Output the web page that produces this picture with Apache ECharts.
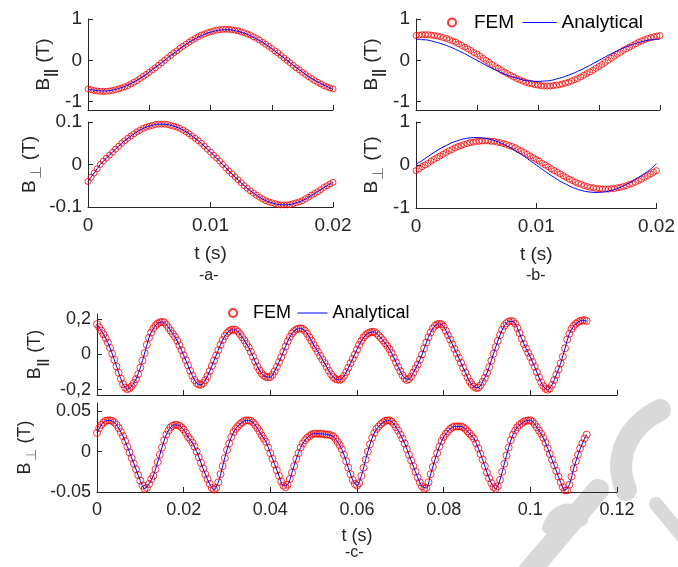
<!DOCTYPE html>
<html>
<head>
<meta charset="utf-8">
<script src="https://cdn.jsdelivr.net/npm/echarts@6/dist/echarts.min.js"></script>
<style>
  html, body { margin: 0; padding: 0; background: #fff; }
  #chart { width: 678px; height: 567px; }
</style>
</head>
<body>
<div id="chart"></div>
<script>
// sample steps (s)
const dtFemAB = 0.00025;
const dtAnaAB = 0.0005;
const dtFemC = 0.0005;
const dtAnaC = 0.001;

// -a- B parallel
const aParFem = [
  -0.69, -0.71, -0.73, -0.74, -0.75, -0.75, -0.75, -0.74, -0.73, -0.71,
  -0.69, -0.67, -0.64, -0.61, -0.57, -0.53, -0.49, -0.44, -0.39, -0.34,
  -0.29, -0.23, -0.18, -0.12, -0.06, 0.00, 0.06, 0.12, 0.18, 0.23,
  0.29, 0.34, 0.39, 0.44, 0.49, 0.53, 0.57, 0.61, 0.64, 0.67,
  0.69, 0.71, 0.73, 0.74, 0.75, 0.75, 0.75, 0.74, 0.73, 0.71,
  0.69, 0.67, 0.64, 0.61, 0.57, 0.53, 0.49, 0.44, 0.39, 0.34,
  0.29, 0.23, 0.18, 0.12, 0.06, 0.00, -0.06, -0.12, -0.18, -0.23,
  -0.29, -0.34, -0.39, -0.44, -0.49, -0.53, -0.57, -0.61, -0.64, -0.67,
  -0.69
];
const aParAna = [
  -0.70, -0.72, -0.74, -0.74, -0.72, -0.68, -0.63, -0.56, -0.48, -0.39,
  -0.28, -0.17, -0.06, 0.06, 0.17, 0.28, 0.39, 0.48, 0.56, 0.63,
  0.68, 0.72, 0.74, 0.74, 0.72, 0.68, 0.63, 0.56, 0.48, 0.39,
  0.28, 0.17, 0.06, -0.06, -0.17, -0.28, -0.39, -0.48, -0.56, -0.63,
  -0.70
];
// -a- B perpendicular
const aPerpFem = [
  -0.040, -0.030, -0.020, -0.010, 0.000, 0.008, 0.015, 0.022, 0.029, 0.036,
  0.043, 0.050, 0.056, 0.062, 0.067, 0.072, 0.077, 0.081, 0.085, 0.088,
  0.090, 0.092, 0.094, 0.095, 0.095, 0.095, 0.094, 0.092, 0.090, 0.088,
  0.085, 0.081, 0.077, 0.072, 0.067, 0.062, 0.056, 0.050, 0.043, 0.036,
  0.029, 0.022, 0.015, 0.008, 0.000, -0.008, -0.015, -0.022, -0.029, -0.036,
  -0.043, -0.050, -0.056, -0.062, -0.067, -0.072, -0.077, -0.081, -0.085, -0.088,
  -0.090, -0.092, -0.094, -0.095, -0.095, -0.095, -0.094, -0.092, -0.090, -0.088,
  -0.085, -0.081, -0.077, -0.072, -0.068, -0.064, -0.059, -0.054, -0.050, -0.046,
  -0.042
];
const aPerpAna = [
  -0.040, -0.020, 0.000, 0.015, 0.029, 0.043, 0.056, 0.067, 0.077, 0.085,
  0.090, 0.094, 0.095, 0.094, 0.090, 0.085, 0.077, 0.067, 0.056, 0.043,
  0.029, 0.015, 0.000, -0.015, -0.029, -0.043, -0.056, -0.067, -0.077, -0.085,
  -0.090, -0.094, -0.095, -0.094, -0.090, -0.085, -0.077, -0.068, -0.059, -0.050,
  -0.042
];

// -b- B parallel
const bParFem = [
  0.60, 0.61, 0.62, 0.62, 0.62, 0.61, 0.60, 0.59, 0.57, 0.55,
  0.53, 0.50, 0.47, 0.44, 0.40, 0.36, 0.32, 0.28, 0.24, 0.19,
  0.15, 0.10, 0.05, 0.00, -0.05, -0.10, -0.15, -0.19, -0.24, -0.28,
  -0.32, -0.36, -0.40, -0.44, -0.47, -0.50, -0.53, -0.55, -0.57, -0.59,
  -0.60, -0.61, -0.62, -0.62, -0.62, -0.61, -0.60, -0.59, -0.57, -0.55,
  -0.53, -0.50, -0.47, -0.44, -0.40, -0.36, -0.32, -0.28, -0.24, -0.19,
  -0.15, -0.10, -0.05, 0.00, 0.05, 0.10, 0.15, 0.19, 0.24, 0.28,
  0.32, 0.36, 0.40, 0.44, 0.47, 0.50, 0.53, 0.55, 0.57, 0.59,
  0.60
];
const bParAna = [
  0.51, 0.50, 0.49, 0.45, 0.41, 0.36, 0.30, 0.23, 0.16, 0.08,
  0.00, -0.08, -0.16, -0.23, -0.30, -0.36, -0.41, -0.45, -0.49, -0.50,
  -0.51, -0.50, -0.49, -0.45, -0.41, -0.36, -0.30, -0.23, -0.16, -0.08,
  0.00, 0.08, 0.16, 0.23, 0.30, 0.36, 0.41, 0.45, 0.49, 0.50,
  0.51
];
// -b- B perpendicular
const bPerpFem = [
  -0.13, -0.09, -0.04, 0.00, 0.04, 0.09, 0.13, 0.17, 0.21, 0.25,
  0.29, 0.33, 0.36, 0.40, 0.43, 0.45, 0.48, 0.50, 0.52, 0.53,
  0.55, 0.55, 0.56, 0.56, 0.56, 0.55, 0.55, 0.53, 0.52, 0.50,
  0.48, 0.45, 0.43, 0.40, 0.36, 0.33, 0.29, 0.25, 0.21, 0.17,
  0.13, 0.09, 0.04, 0.00, -0.04, -0.09, -0.13, -0.17, -0.21, -0.25,
  -0.29, -0.33, -0.36, -0.40, -0.43, -0.45, -0.48, -0.50, -0.52, -0.53,
  -0.55, -0.55, -0.56, -0.56, -0.56, -0.55, -0.55, -0.53, -0.52, -0.50,
  -0.48, -0.45, -0.43, -0.40, -0.36, -0.33, -0.29, -0.25, -0.21, -0.17,
  -0.13
];
const bPerpAna = [
  0.02, 0.10, 0.20, 0.29, 0.38, 0.45, 0.52, 0.57, 0.61, 0.63,
  0.64, 0.63, 0.61, 0.57, 0.52, 0.45, 0.38, 0.29, 0.20, 0.10,
  0.00, -0.10, -0.20, -0.29, -0.38, -0.45, -0.52, -0.57, -0.61, -0.63,
  -0.64, -0.63, -0.61, -0.57, -0.52, -0.45, -0.38, -0.29, -0.20, -0.10,
  0.03
];

// -c- B parallel
const cParFem = [
  0.172, 0.155, 0.135, 0.115, 0.093, 0.068, 0.038, 0.005, -0.030, -0.068,
  -0.103, -0.138, -0.168, -0.188, -0.197, -0.192, -0.180, -0.162, -0.140, -0.112,
  -0.075, -0.035, 0.008, 0.055, 0.095, 0.125, 0.148, 0.165, 0.176, 0.183,
  0.185, 0.182, 0.170, 0.152, 0.135, 0.118, 0.100, 0.078, 0.052, 0.025,
  -0.005, -0.032, -0.062, -0.092, -0.120, -0.145, -0.162, -0.171, -0.172, -0.163,
  -0.145, -0.122, -0.095, -0.065, -0.035, -0.005, 0.025, 0.055, 0.082, 0.105,
  0.122, 0.133, 0.140, 0.142, 0.140, 0.130, 0.115, 0.098, 0.080, 0.060,
  0.040, 0.015, -0.012, -0.040, -0.068, -0.090, -0.108, -0.120, -0.127, -0.130,
  -0.128, -0.115, -0.095, -0.070, -0.043, -0.015, 0.015, 0.045, 0.075, 0.100,
  0.120, 0.133, 0.142, 0.147, 0.148, 0.146, 0.135, 0.118, 0.098, 0.078,
  0.055, 0.035, 0.015, -0.007, -0.028, -0.048, -0.070, -0.092, -0.112, -0.128,
  -0.138, -0.143, -0.144, -0.138, -0.122, -0.100, -0.075, -0.050, -0.025, 0.000,
  0.028, 0.055, 0.078, 0.097, 0.110, 0.120, 0.126, 0.129, 0.128, 0.120,
  0.108, 0.094, 0.080, 0.064, 0.048, 0.030, 0.008, -0.018, -0.045, -0.070,
  -0.095, -0.118, -0.135, -0.145, -0.140, -0.125, -0.103, -0.080, -0.058, -0.030,
  0.000, 0.035, 0.068, 0.098, 0.125, 0.148, 0.163, 0.171, 0.174, 0.172,
  0.158, 0.135, 0.110, 0.085, 0.058, 0.032, 0.006, -0.020, -0.047, -0.075,
  -0.103, -0.130, -0.153, -0.170, -0.183, -0.190, -0.188, -0.175, -0.155, -0.132,
  -0.105, -0.072, -0.035, 0.005, 0.042, 0.078, 0.110, 0.140, 0.163, 0.178,
  0.187, 0.190, 0.188, 0.175, 0.150, 0.122, 0.090, 0.060, 0.035, 0.010,
  -0.015, -0.042, -0.070, -0.100, -0.130, -0.158, -0.180, -0.195, -0.200, -0.193,
  -0.172, -0.145, -0.115, -0.085, -0.050, -0.012, 0.035, 0.085, 0.118, 0.145,
  0.162, 0.175, 0.184, 0.190, 0.194, 0.195, 0.190
];
const cParAna = [
  0.172, 0.135, 0.093, 0.038, -0.030, -0.103, -0.168, -0.197, -0.180, -0.140,
  -0.075, 0.008, 0.095, 0.148, 0.176, 0.185, 0.170, 0.135, 0.100, 0.052,
  -0.005, -0.062, -0.120, -0.162, -0.172, -0.145, -0.095, -0.035, 0.025, 0.082,
  0.122, 0.140, 0.140, 0.115, 0.080, 0.040, -0.012, -0.068, -0.108, -0.127,
  -0.128, -0.095, -0.043, 0.015, 0.075, 0.120, 0.142, 0.148, 0.135, 0.098,
  0.055, 0.015, -0.028, -0.070, -0.112, -0.138, -0.144, -0.122, -0.075, -0.025,
  0.028, 0.078, 0.110, 0.126, 0.128, 0.108, 0.080, 0.048, 0.008, -0.045,
  -0.095, -0.135, -0.140, -0.103, -0.058, 0.000, 0.068, 0.125, 0.163, 0.174,
  0.158, 0.110, 0.058, 0.006, -0.047, -0.103, -0.153, -0.183, -0.188, -0.155,
  -0.105, -0.035, 0.042, 0.110, 0.163, 0.187, 0.188, 0.150, 0.090, 0.035,
  -0.015, -0.070, -0.130, -0.180, -0.200, -0.172, -0.115, -0.050, 0.035, 0.118,
  0.162, 0.184, 0.194, 0.190
];
// -c- B perpendicular
const cPerpFem = [
  0.023, 0.029, 0.033, 0.036, 0.038, 0.0385, 0.0385, 0.038, 0.036, 0.033,
  0.029, 0.024, 0.019, 0.013, 0.006, -0.001, -0.008, -0.015, -0.022, -0.029,
  -0.036, -0.042, -0.046, -0.045, -0.040, -0.034, -0.030, -0.022, -0.013, -0.004,
  0.005, 0.014, 0.021, 0.026, 0.030, 0.032, 0.033, 0.033, 0.032, 0.030,
  0.027, 0.023, 0.018, 0.015, 0.011, 0.006, 0.000, -0.007, -0.014, -0.021,
  -0.028, -0.034, -0.040, -0.045, -0.047, -0.045, -0.038, -0.028, -0.018, -0.008,
  0.002, 0.010, 0.018, 0.024, 0.028, 0.031, 0.034, 0.036, 0.038, 0.0385,
  0.0385, 0.038, 0.036, 0.033, 0.029, 0.025, 0.020, 0.016, 0.012, 0.005,
  -0.002, -0.009, -0.016, -0.023, -0.030, -0.037, -0.042, -0.044, -0.041, -0.034,
  -0.026, -0.018, -0.009, -0.002, 0.005, 0.010, 0.014, 0.017, 0.019, 0.021,
  0.022, 0.022, 0.022, 0.022, 0.022, 0.021, 0.021, 0.021, 0.020, 0.019,
  0.016, 0.012, 0.008, 0.003, -0.004, -0.012, -0.020, -0.028, -0.035, -0.040,
  -0.042, -0.039, -0.030, -0.020, -0.010, 0.000, 0.009, 0.017, 0.023, 0.028,
  0.031, 0.034, 0.036, 0.038, 0.0385, 0.0385, 0.037, 0.034, 0.030, 0.026,
  0.021, 0.016, 0.010, 0.003, -0.004, -0.011, -0.018, -0.025, -0.032, -0.038,
  -0.043, -0.046, -0.045, -0.038, -0.028, -0.019, -0.010, -0.002, 0.006, 0.013,
  0.018, 0.022, 0.025, 0.028, 0.030, 0.031, 0.031, 0.031, 0.031, 0.030,
  0.028, 0.025, 0.022, 0.019, 0.016, 0.010, 0.004, -0.003, -0.010, -0.018,
  -0.026, -0.033, -0.039, -0.044, -0.046, -0.043, -0.035, -0.025, -0.015, -0.005,
  0.005, 0.014, 0.021, 0.026, 0.030, 0.033, 0.035, 0.037, 0.038, 0.0385,
  0.0385, 0.037, 0.034, 0.030, 0.026, 0.022, 0.017, 0.011, 0.004, -0.003,
  -0.010, -0.017, -0.024, -0.031, -0.038, -0.044, -0.048, -0.048, -0.041, -0.031,
  -0.021, -0.012, -0.004, 0.004, 0.010, 0.016, 0.021
];
const cPerpAna = [
  0.023, 0.033, 0.038, 0.0385, 0.036, 0.029, 0.019, 0.006, -0.008, -0.022,
  -0.036, -0.046, -0.040, -0.030, -0.013, 0.005, 0.021, 0.030, 0.033, 0.032,
  0.027, 0.018, 0.011, 0.000, -0.014, -0.028, -0.040, -0.047, -0.038, -0.018,
  0.002, 0.018, 0.028, 0.034, 0.038, 0.0385, 0.036, 0.029, 0.020, 0.012,
  -0.002, -0.016, -0.030, -0.042, -0.041, -0.026, -0.009, 0.005, 0.014, 0.019,
  0.022, 0.022, 0.022, 0.021, 0.020, 0.016, 0.008, -0.004, -0.020, -0.035,
  -0.042, -0.030, -0.010, 0.009, 0.023, 0.031, 0.036, 0.0385, 0.037, 0.030,
  0.021, 0.010, -0.004, -0.018, -0.032, -0.043, -0.045, -0.028, -0.010, 0.006,
  0.018, 0.025, 0.030, 0.031, 0.031, 0.028, 0.022, 0.016, 0.004, -0.010,
  -0.026, -0.039, -0.046, -0.035, -0.015, 0.005, 0.021, 0.030, 0.035, 0.038,
  0.0385, 0.034, 0.026, 0.017, 0.004, -0.010, -0.024, -0.038, -0.048, -0.041,
  -0.021, -0.004, 0.010, 0.021
];

// tick values
const ticksPar = [-1, 0, 1];
const ticksCPar = [-0.2, 0, 0.2];
const ticksCPerp = [-0.05, 0, 0.05];

const INK = '#262626';
const FONT = '"Liberation Sans", Arial, sans-serif';

function pairs(vals, dt) {
  return vals.map((v, i) => [+(i * dt).toFixed(5), v]);
}

function xAxis(grid, max, interval, labels, fs, gap) {
  return {
    type: 'value', gridIndex: grid, min: 0, max: max, interval: interval,
    axisLine: { onZero: false, lineStyle: { color: INK, width: 1 } },
    axisTick: { inside: true, length: 5, lineStyle: { color: INK } },
    axisLabel: { show: labels, color: INK, fontSize: fs, fontFamily: FONT, margin: 9 },
    splitLine: { show: false },
    name: labels ? 't (s)' : '', nameLocation: 'middle', nameGap: gap || 37,
    nameTextStyle: { color: INK, fontSize: fs, fontFamily: FONT }
  };
}

function yAxis(grid, min, max, opts) {
  const fs = opts.fs;
  const ax = {
    type: 'value', gridIndex: grid, min: min, max: max,
    axisLine: { show: true, onZero: false, lineStyle: { color: INK, width: 1 } },
    axisTick: { inside: true, length: 5, lineStyle: { color: INK } },
    axisLabel: { color: INK, fontSize: fs, fontFamily: FONT, margin: 6 },
    splitLine: { show: false },
    name: opts.perp ? '{b|B}{s|⊥}{b| (T)}' : '{b|B}{p|||}{b| (T)}',
    nameLocation: 'middle', nameRotate: 90, nameGap: opts.gap,
    nameTextStyle: {
      color: INK, fontFamily: FONT,
      rich: {
        b: { fontSize: fs, fontFamily: FONT, color: INK, lineHeight: fs + 2, verticalAlign: 'top' },
        s: { fontSize: fs - 4, fontFamily: FONT, color: '#777', padding: [9, 1, 0, 1], verticalAlign: 'bottom' },
        p: { fontSize: fs - 5, fontWeight: 'bold', fontFamily: FONT, color: INK, padding: [10, 1, 0, 1], verticalAlign: 'bottom' }
      }
    }
  };
  if (opts.ticks) {
    ax.axisLabel.customValues = opts.ticks;
    ax.axisTick.customValues = opts.ticks;
  } else {
    ax.interval = opts.interval;
  }
  if (opts.comma) ax.axisLabel.formatter = (v) => String(v).replace('.', ',');
  return ax;
}

function fem(idx, vals, dt, size) {
  return {
    name: 'FEM', type: 'scatter', xAxisIndex: idx, yAxisIndex: idx,
    data: pairs(vals, dt), symbol: 'circle', symbolSize: size, clip: false,
    itemStyle: { color: 'rgba(0,0,0,0)', borderColor: '#ff0000', borderWidth: 1 },
    silent: true
  };
}

function ana(idx, vals, dt) {
  return {
    name: 'Analytical', type: 'line', xAxisIndex: idx, yAxisIndex: idx,
    data: pairs(vals, dt), smooth: 0.3, symbol: 'none', showSymbol: false,
    lineStyle: { color: '#0000ff', width: 1 }, itemStyle: { color: '#0000ff' },
    silent: true, z: 3
  };
}

function legendItems() {
  return [
    { name: 'FEM' },
    { name: 'Analytical', itemStyle: { color: 'rgba(0,0,0,0)', borderWidth: 0 },
      lineStyle: { width: 1, color: '#0000ff' } }
  ];
}

const chart = echarts.init(document.getElementById('chart'), null, { renderer: 'canvas' });

const wm = '#d9d9d9';

chart.setOption({
  animation: false,
  backgroundColor: '#ffffff',
  grid: [
    { left: 88, top: 19, width: 245, height: 91 },
    { left: 88, top: 122, width: 245, height: 85 },
    { left: 416, top: 19, width: 244, height: 91 },
    { left: 416, top: 122, width: 244, height: 86 },
    { left: 97, top: 314, width: 520, height: 81 },
    { left: 97, top: 403, width: 520, height: 89 }
  ],
  xAxis: [
    xAxis(0, 0.02, 0.005, false, 19),
    xAxis(1, 0.02, 0.01, true, 19),
    xAxis(2, 0.02, 0.005, false, 19),
    xAxis(3, 0.02, 0.01, true, 19),
    xAxis(4, 0.12, 0.02, false, 18),
    xAxis(5, 0.12, 0.02, true, 18, 35)
  ],
  yAxis: [
    yAxis(0, -1.2, 1, { fs: 19, ticks: ticksPar, gap: 30 }),
    yAxis(1, -0.1, 0.1, { fs: 19, interval: 0.1, perp: true, gap: 44 }),
    yAxis(2, -1.2, 1, { fs: 19, ticks: ticksPar, gap: 30 }),
    yAxis(3, -1, 1, { fs: 19, interval: 1, perp: true, gap: 30 }),
    yAxis(4, -0.23, 0.23, { fs: 18, ticks: ticksCPar, comma: true, gap: 43 }),
    yAxis(5, -0.05, 0.06, { fs: 18, ticks: ticksCPerp, perp: true, gap: 51 })
  ],
  legend: [
    {
      data: legendItems(), left: 442, top: 8, itemWidth: 34, itemHeight: 8,
      itemGap: 8, selectedMode: false, lineStyle: { width: 1 },
      textStyle: { color: '#000', fontSize: 19, fontFamily: FONT }
    },
    {
      data: legendItems(), left: 223, top: 299, itemWidth: 30, itemHeight: 8,
      itemGap: 6, selectedMode: false, lineStyle: { width: 1 },
      textStyle: { color: '#000', fontSize: 18, fontFamily: FONT }
    }
  ],
  series: [
    fem(0, aParFem, dtFemAB, 6), ana(0, aParAna, dtAnaAB),
    fem(1, aPerpFem, dtFemAB, 6), ana(1, aPerpAna, dtAnaAB),
    fem(2, bParFem, dtFemAB, 6), ana(2, bParAna, dtAnaAB),
    fem(3, bPerpFem, dtFemAB, 6), ana(3, bPerpAna, dtAnaAB),
    fem(4, cParFem, dtFemC, 7), ana(4, cParAna, dtAnaC),
    fem(5, cPerpFem, dtFemC, 7), ana(5, cPerpAna, dtAnaC)
  ],
  graphic: [
    { type: 'text', left: 199, top: 268, style: { text: '-a-', fill: INK, font: '16px ' + FONT } },
    { type: 'text', left: 526, top: 268, style: { text: '-b-', fill: INK, font: '16px ' + FONT } },
    { type: 'text', left: 345, top: 545, style: { text: '-c-', fill: INK, font: '16px ' + FONT } },
    // faint watermark strokes, bottom right
    { type: 'bezierCurve', z: -10, silent: true,
      shape: { x1: 660, y1: 410, cpx1: 630, cpy1: 425, cpx2: 612, cpy2: 455, x2: 626, y2: 490 },
      style: { stroke: wm, lineWidth: 22, lineCap: 'round', fill: null } },
    { type: 'line', z: -10, silent: true,
      shape: { x1: 656, y1: 504, x2: 684, y2: 538 },
      style: { stroke: wm, lineWidth: 14, lineCap: 'round' } },
    { type: 'line', z: -10, silent: true,
      shape: { x1: 598, y1: 490, x2: 526, y2: 575 },
      style: { stroke: wm, lineWidth: 22, lineCap: 'round' } },
    { type: 'bezierCurve', z: -10, silent: true,
      shape: { x1: 548, y1: 528, cpx1: 556, cpy1: 506, cpx2: 576, cpy2: 504, x2: 582, y2: 520 },
      style: { stroke: wm, lineWidth: 12, lineCap: 'round', fill: null } }
  ]
});
</script>
</body>
</html>
